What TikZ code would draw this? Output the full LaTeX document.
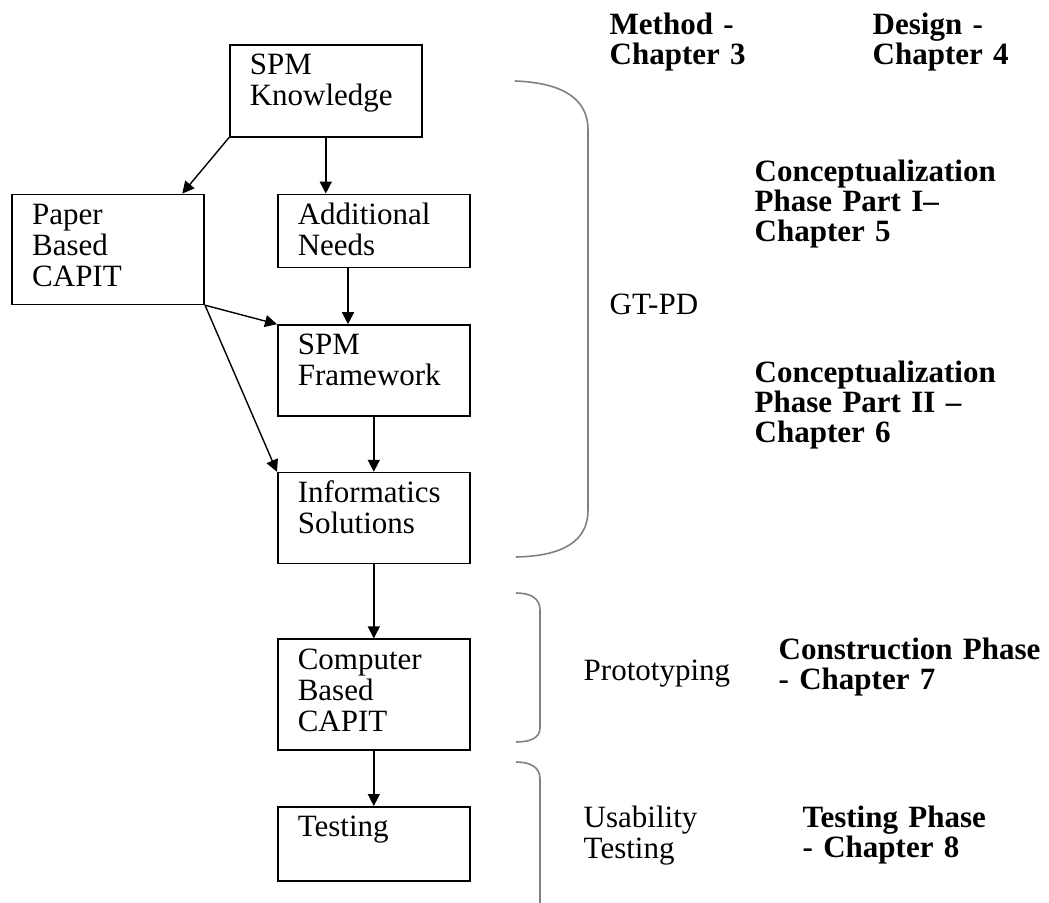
\documentclass[tikz,border=0pt]{standalone}
\usepackage{fontspec}
\setmainfont{Liberation Serif}
\usepackage{tikz}
\usetikzlibrary{arrows.meta, positioning}

\begin{document}
\begin{tikzpicture}[->,>={Triangle[length=6pt,width=6pt]},line width=0.7pt,x=0.5pt,y=-0.5pt]
            \tikzset{stage/.style={draw, rectangle, line width=0.8pt, inner xsep=10pt, inner ysep=0pt, text width=76pt, align=left, text height=15pt, font=\fontsize{15.5}{15.5}\selectfont},
                     chap/.style={inner sep=0pt, anchor=base west, text width=150pt, align=left, font=\fontsize{15.5}{15}\selectfont\bfseries},
                     lbl/.style={inner sep=0pt, anchor=base west, text width=100pt, align=left, font=\fontsize{15.5}{15.5}\selectfont},
                     brace/.style={-, draw=gray, line width=0.8pt}}
            \useasboundingbox (0,0) rectangle (1049,903);
            % boxes
            \node[stage, text depth=31pt, anchor=north west] (know) at (229,44) {SPM\\Knowledge};
            \node[stage, text depth=21.5pt] (add) [below=28pt of know.south west, anchor=north west, xshift=24pt] {Additional\\Needs};
            \node[stage, text depth=40pt] (paper) [left=36pt of add.north west, anchor=north east] {Paper\\Based\\CAPIT};
            \node[stage, text depth=30.5pt] (fw) [below=28pt of add] {SPM\\Framework};
            \node[stage, text depth=30.5pt] (info) [below=27.5pt of fw] {Informatics\\Solutions};
            \node[stage, text depth=40.5pt] (comp) [below=37pt of info] {Computer\\Based\\CAPIT};
            \node[stage, text depth=22pt] (test) [below=27.5pt of comp] {Testing};
            % arrows
            \draw (know.south west) -- (paper.37);
            \draw (know.south) -- (know.south |- add.north);
            \draw ([xshift=35.5pt]add.south west) -- ([xshift=35.5pt]fw.north west);
            \draw (paper.south east) -- (fw.north west);
            \draw (paper.south east) -- (info.north west);
            \draw (fw) -- (info);
            \draw (info) -- (comp);
            \draw (comp) -- (test);
            % braces
            \draw[brace] (515,81) .. controls (565,83) and (588,100) .. (588,130) -- (588,510) .. controls (588,540) and (565,556) .. (516,557);
            \draw[brace] (516,593) .. controls (530,593) and (540,598) .. (540,610) -- (540,728) .. controls (540,738) and (530,742) .. (516,742);
            \draw[brace] (516,762) .. controls (530,762) and (540,767) .. (540,779) -- (540,903);
            % labels
            \node[chap] (meth) at (609,35) {Method -\\Chapter 3};
            \node[chap] (dsgn) at (872,35) {Design -\\Chapter 4};
            \node[chap] (conc1) at (754,182) {Conceptualization\\Phase Part I--\\Chapter 5};
            \node[lbl] (gtpd) at (609,315) {GT-PD};
            \node[chap] (conc2) at (754,383) {Conceptualization\\Phase Part II --\\Chapter 6};
            \node[lbl] (proto) at (583,680) {Prototyping};
            \node[chap] (constr) at (778,659) {Construction Phase\\- Chapter 7};
            \node[lbl] (usab) at (583,827) {Usability\\Testing};
            \node[chap] (tphase) at (802,827) {Testing Phase\\- Chapter 8};
        \end{tikzpicture}
\end{document}
